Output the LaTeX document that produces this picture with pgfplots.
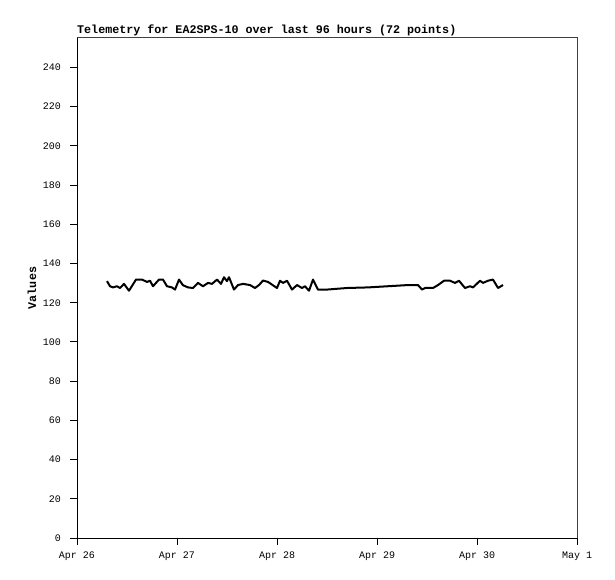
\documentclass[border=0pt]{standalone}
\usepackage{fontspec}
\setmainfont{Liberation Mono}
\usepackage{pgfplots}
\pgfplotsset{compat=1.18}
\definecolor{bordergrey}{HTML}{404040}
\begin{document}
\begin{tikzpicture}[x=1pt,y=1pt]
\useasboundingbox (0,0) rectangle (615,579);
\begin{axis}[
  at={(77pt,41pt)}, anchor=south west,
  scale only axis, width=500pt, height=500pt,
  xmin=0, xmax=5, ymin=0, ymax=255,
  axis lines=left,
  axis line style={-, black, line width=1pt},
  xtick={0,1,2,3,4,5},
  xticklabels={Apr 26,Apr 27,Apr 28,Apr 29,Apr 30,May 1},
  ytick={0,20,...,240},
  tick align=outside,
  major tick length=7pt,
  tick style={black, line width=1pt},
  /pgf/number format/assume math mode=true,
  tick label style={font=\fontsize{10}{12}\selectfont},
  yticklabel style={anchor=east, inner sep=0pt, xshift=-9pt},
  xticklabel style={anchor=north, inner sep=0pt, yshift=-7pt},
  clip=false,
]
\addplot[black, line width=2pt, line join=round] coordinates {
(0.30,131.0) (0.33,128.4) (0.36,127.8) (0.40,128.4) (0.43,127.5) (0.47,129.6)
(0.52,126.1) (0.59,131.8) (0.65,131.8) (0.70,130.6) (0.73,131.2) (0.76,128.4)
(0.82,131.8) (0.86,131.8) (0.90,128.4) (0.95,127.8) (0.98,126.7) (1.02,131.8)
(1.06,128.9) (1.11,127.8) (1.16,127.5) (1.21,130.1) (1.26,128.4) (1.31,130.1)
(1.35,129.6) (1.40,131.8) (1.44,129.6) (1.47,133.0) (1.50,131.0) (1.52,133.0)
(1.57,126.7) (1.61,129.0) (1.66,129.6) (1.73,129.0) (1.78,127.5) (1.82,129.0)
(1.86,131.3) (1.91,130.6) (2.00,127.5) (2.03,131.2) (2.06,130.1) (2.10,131.2)
(2.15,126.7) (2.20,129.0) (2.25,127.5) (2.28,128.4) (2.32,126.1) (2.36,131.8)
(2.41,126.7) (2.50,126.7) (2.70,127.5) (2.91,127.8) (3.11,128.4) (3.31,129.0)
(3.41,129.0) (3.45,126.7) (3.48,127.5) (3.56,127.5) (3.61,129.0) (3.67,131.2)
(3.73,131.2) (3.78,130.1) (3.82,131.2) (3.88,127.5) (3.93,128.4) (3.96,127.8)
(4.03,131.2) (4.06,130.1) (4.11,131.2) (4.16,131.8) (4.21,127.5) (4.26,129.0)
};
\draw[bordergrey, line width=1pt] (rel axis cs:0,1) -- (rel axis cs:1,1) -- (rel axis cs:1,0);
\end{axis}
\node[anchor=base west, inner sep=0pt, font=\fontsize{11.7}{13}\selectfont\bfseries] at (77,545) {Telemetry for EA2SPS-10 over last 96 hours (72 points)};
\node[rotate=90, anchor=center, inner sep=0pt, font=\fontsize{11.7}{13}\selectfont\bfseries] at (32,291) {Values};
\end{tikzpicture}
\end{document}
